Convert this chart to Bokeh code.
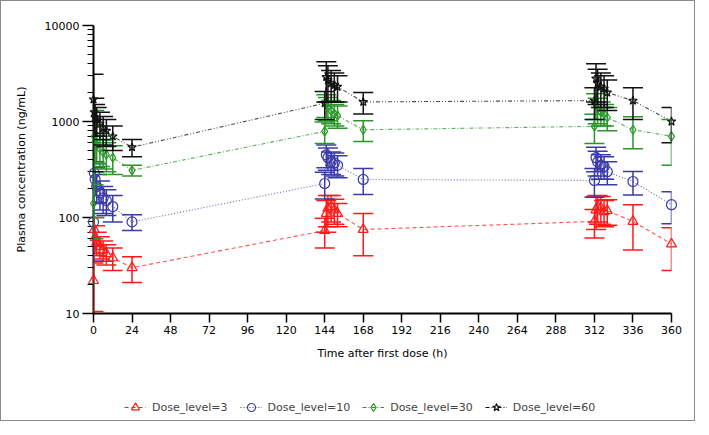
from bokeh.plotting import figure
from bokeh.layouts import column
from bokeh.models import (ColumnDataSource, Whisker, TeeHead, FixedTicker, Legend, LegendItem,
                          NumeralTickFormatter)
from bokeh.embed import file_html
from bokeh.resources import INLINE

# ---- data ----
times = [0, 0.5, 1, 2, 4, 6, 8, 12, 24,
         144, 145, 146, 148, 150, 152, 168,
         312, 313, 314, 316, 318, 320, 336, 360]

dose_labels = ["Dose_level=3", "Dose_level=10", "Dose_level=30", "Dose_level=60"]

mean_3 = [22, 75, 62, 55, 50, 46, 42, 38, 30,
          73, 110, 125, 130, 120, 110, 75,
          91, 120, 130, 125, 115, 118, 91, 53]
sd_3 = [11.5, 25, 20, 15, 13, 11, 10, 10, 9,
        25, 40, 45, 40, 35, 30, 35,
        30, 45, 40, 40, 35, 35, 45, 25]

mean_10 = [90, 290, 250, 210, 180, 160, 150, 130, 90,
           226, 450, 420, 380, 370, 350, 249,
           243, 420, 380, 350, 340, 300, 237, 136]
sd_10 = [55, 90, 80, 70, 60, 50, 45, 40, 17,
         70, 120, 110, 100, 100, 90, 75,
         80, 120, 110, 100, 90, 80, 65, 50]

mean_30 = [140, 700, 620, 560, 520, 480, 450, 420, 310,
           790, 1500, 1400, 1300, 1200, 1150, 820,
           890, 1500, 1350, 1250, 1200, 1100, 820, 700]
sd_30 = [80, 600, 250, 200, 180, 160, 150, 140, 40,
         200, 400, 380, 350, 300, 300, 200,
         300, 450, 400, 350, 300, 300, 300, 350]

mean_60 = [1700, 1250, 1100, 1050, 950, 850, 800, 700, 540,
           1550, 2900, 2700, 2500, 2400, 2300, 1600,
           1650, 2800, 2500, 2300, 2200, 2000, 1650, 1000]
sd_60 = [1400, 500, 400, 350, 300, 280, 250, 200, 110,
         500, 1300, 1100, 900, 800, 700, 400,
         600, 1200, 1000, 900, 800, 700, 600, 400]

x_ticks = [0, 24, 48, 72, 96, 120, 144, 168, 192, 216, 240, 264, 288, 312, 336, 360]
y_ticks = [10, 100, 1000, 10000]

series = [
    (dose_labels[0], mean_3, sd_3, "#ff1a1a", "4 3", "triangle", 10),
    (dose_labels[1], mean_10, sd_10, "#3a3aaa", "1 2", "circle", 10),
    (dose_labels[2], mean_30, sd_30, "#2a962a", "4 2 1 2", "diamond", 9),
    (dose_labels[3], mean_60, sd_60, "#111111", "4 2 1 2 1 2", "star", 9),
]

FONT = "DejaVu Sans"

p = figure(width=693, height=395, output_backend="svg", toolbar_location=None,
           y_axis_type="log", x_range=(0, 360), y_range=(10, 10000),
           min_border_left=92, min_border_right=23, min_border_top=24, min_border_bottom=83)
p.outline_line_color = None
p.grid.visible = False

# separate strip for the legend below the chart (its ranges keep the data out of view)
lg = figure(width=693, height=24, output_backend="svg", toolbar_location=None,
            min_border_left=0, min_border_right=0, min_border_top=0, min_border_bottom=0,
            x_range=(0, 1), y_range=(0, 1))
lg.axis.visible = False
lg.grid.visible = False
lg.outline_line_color = None

items = []
for label, m, s, color, dash, marker, size in series:
    upper = [mi + si for mi, si in zip(m, s)]
    lower = [max(mi - si, 10.0) for mi, si in zip(m, s)]
    src = ColumnDataSource(dict(t=times, m=m, upper=upper, lower=lower))
    w = Whisker(source=src, base="t", upper="upper", lower="lower", dimension="height",
                line_color=color, line_width=1.5, level="overlay",
                upper_head=TeeHead(size=20, line_color=color, line_width=1.5),
                lower_head=TeeHead(size=20, line_color=color, line_width=1.5))
    p.add_layout(w)
    p.line("t", "m", source=src, line_color=color, line_dash=dash, line_width=1.1,
           line_alpha=0.75, level="overlay")
    p.scatter("t", "m", source=src, marker=marker, size=size, line_color=color,
              fill_color=None, line_width=1.2, level="overlay")
    l2 = lg.line("t", "m", source=src, line_color=color, line_dash=dash, line_width=1.1)
    m2 = lg.scatter("t", "m", source=src, marker=marker, size=7, line_color=color,
                    fill_color=None, line_width=1.2)
    items.append(LegendItem(label=label, renderers=[l2, m2]))

legend = Legend(items=items, orientation="horizontal", location=(31, 3),
                label_text_font=FONT, label_text_font_size="11px",
                glyph_width=22, label_standoff=6, spacing=12, border_line_color=None,
                background_fill_alpha=0, margin=0, padding=4)
lg.add_layout(legend)

p.yaxis.ticker = FixedTicker(ticks=y_ticks,
                             minor_ticks=[k * 10 ** e for e in range(1, 4) for k in range(2, 10)])
p.yaxis.formatter = NumeralTickFormatter(format="0")
p.xaxis.ticker = FixedTicker(ticks=x_ticks)

for ax in (p.xaxis[0], p.yaxis[0]):
    ax.axis_line_width = 2
    ax.axis_line_color = "black"
    ax.major_tick_line_color = "black"
    ax.major_tick_line_width = 1.5
    ax.minor_tick_line_color = "black"
    ax.major_tick_in = 0
    ax.minor_tick_in = 0
    ax.major_label_text_font = FONT
    ax.major_label_text_font_size = "11px"
    ax.major_label_text_color = "black"
    ax.axis_label_text_font = FONT
    ax.axis_label_text_font_size = "11px"
    ax.axis_label_text_font_style = "normal"
    ax.axis_label_text_color = "black"

p.xaxis.major_tick_out = 9
p.xaxis.minor_tick_out = 0
p.xaxis.major_label_standoff = 3
p.xaxis.axis_label_standoff = 10
p.yaxis.major_tick_out = 11
p.yaxis.minor_tick_out = 6
p.yaxis.major_label_standoff = 3
p.yaxis.axis_label_standoff = 14
p.yaxis.axis_label = "Plasma concentration (ng/mL)"
p.xaxis.axis_label = "Time after first dose (h)"

layout = column(p, lg, spacing=0, styles={"border": "1px solid #8a8a8a"})

open("out.html", "w").write(file_html(layout, INLINE))
